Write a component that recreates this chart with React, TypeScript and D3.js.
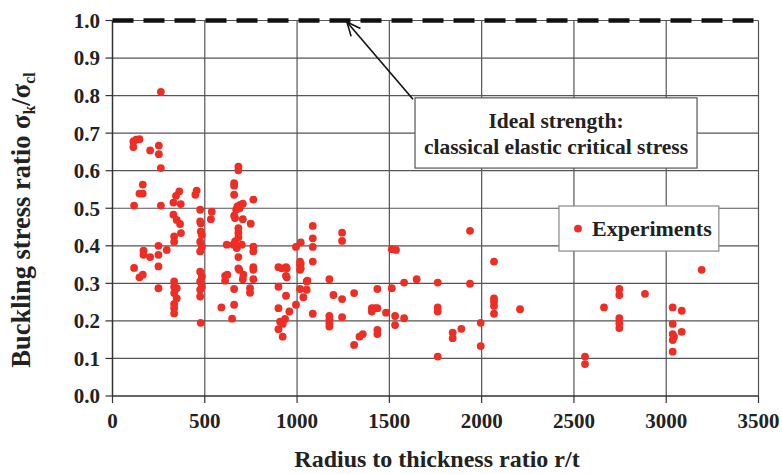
import React from "react";
import * as d3 from "d3";

const xTicks = [0, 500, 1000, 1500, 2000, 2500, 3000, 3500];
const yTicks = [0, 0.1, 0.2, 0.3, 0.4, 0.5, 0.6, 0.7, 0.8, 0.9, 1.0];

// Experiments: [r/t, sigma_k/sigma_cl]
const expX = [
  113, 128, 146, 113, 117, 117, 146, 164, 164, 146, 164, 168, 168, 204,
  204, 251, 251, 262, 262, 262, 249, 249, 294, 249, 249,
  362, 344, 330, 370, 330, 348, 366, 371, 334, 334, 334, 334, 348, 334, 348, 334, 334, 334,
  456, 449, 475, 538, 533, 478, 478, 484, 475, 484, 475, 475, 484, 475, 484, 475, 475, 478, 475,
  682, 682, 659, 659, 659, 763, 691, 706, 677, 670, 688, 659, 664, 706, 749, 682, 682, 682,
  619, 655, 673, 700, 664, 763, 763, 682, 682, 763, 763, 610, 622, 610, 687, 709, 706, 763,
  659, 745, 745, 590, 659, 648,
  899, 940, 940, 1016, 1016, 899, 940, 1016, 1052, 1034, 1052, 994, 899, 958, 935, 908, 922, 899, 922,
  1085, 1085, 1085, 1085, 994, 1020, 1016, 1020, 1020, 944, 917, 944, 1056, 1085,
  1244, 1244, 1175, 1197, 1244, 1175, 1175, 1175, 1175, 1244, 1309, 1356, 1338, 1309,
  1435, 1405, 1423, 1435, 1405, 1482, 1435, 1435, 1513, 1536, 1513, 1531, 1531, 1580, 1648, 1580,
  1762, 1762, 1762, 1762, 1937, 1937, 1843, 1843, 1890, 1995, 1995,
  2067, 2067, 2067, 2067, 2067, 2208,
  2560, 2560, 2663, 2746, 2746, 2885, 2746, 2746, 2746,
  3035, 3084, 3035, 3084, 3035, 3042, 3035, 3035, 3192,
];
const expY = [
  0.678, 0.683, 0.684, 0.663, 0.507, 0.341, 0.316, 0.323, 0.563, 0.539, 0.539, 0.387, 0.376, 0.37,
  0.654, 0.667, 0.644, 0.607, 0.81, 0.507, 0.4, 0.376, 0.389, 0.345, 0.287,
  0.545, 0.533, 0.515, 0.511, 0.483, 0.469, 0.458, 0.434, 0.425, 0.411, 0.305, 0.291, 0.287, 0.274, 0.26, 0.245, 0.234, 0.22,
  0.547, 0.536, 0.496, 0.491, 0.471, 0.46, 0.438, 0.429, 0.411, 0.398, 0.385, 0.331, 0.318, 0.305, 0.291, 0.283, 0.265, 0.195, 0.465,
  0.611, 0.601, 0.567, 0.56, 0.536, 0.523, 0.509, 0.512, 0.505, 0.496, 0.5, 0.48, 0.474, 0.471, 0.459, 0.447, 0.435, 0.423,
  0.403, 0.403, 0.394, 0.403, 0.412, 0.398, 0.385, 0.37, 0.34, 0.343, 0.336, 0.32, 0.323, 0.307, 0.336, 0.323, 0.311, 0.311,
  0.285, 0.287, 0.275, 0.236, 0.243, 0.206,
  0.343, 0.343, 0.32, 0.349, 0.336, 0.291, 0.267, 0.285, 0.283, 0.263, 0.305, 0.243, 0.234, 0.225, 0.205, 0.198, 0.192, 0.178, 0.158,
  0.453, 0.42, 0.397, 0.358, 0.397, 0.409, 0.358, 0.352, 0.34, 0.34, 0.34, 0.316, 0.307, 0.219,
  0.435, 0.413, 0.311, 0.269, 0.258, 0.213, 0.203, 0.194, 0.185, 0.21, 0.274, 0.165, 0.158, 0.136,
  0.285, 0.234, 0.234, 0.234, 0.225, 0.222, 0.176, 0.165, 0.391, 0.389, 0.287, 0.213, 0.189, 0.302, 0.311, 0.207,
  0.302, 0.236, 0.225, 0.105, 0.44, 0.299, 0.169, 0.154, 0.179, 0.195, 0.133,
  0.358, 0.26, 0.251, 0.24, 0.219, 0.231,
  0.105, 0.085, 0.236, 0.285, 0.269, 0.272, 0.207, 0.194, 0.181,
  0.236, 0.227, 0.192, 0.171, 0.165, 0.158, 0.149, 0.118, 0.336,
];

const idealValue = 1.0;
const annotationLines = ["Ideal strength:", "classical elastic critical stress"];
const legendLabel = "Experiments";
const xTitle = "Radius to thickness ratio r/t";

const W = 782;
const H = 474;
const FONT = "'Liberation Serif', 'Times New Roman', serif";
const RED = "#ee2d25";

export default function App() {
  const x = d3.scaleLinear().domain([0, 3500]).range([112.5, 758.5]);
  const y = d3.scaleLinear().domain([0, 1]).range([396, 20.5]);
  const pts = expX.map((v, i) => [v, expY[i]] as [number, number]);

  const box = { x0: 1639, x1: 3167, y0: 0.794, y1: 0.607 };
  const arrowTail: [number, number] = [1628, 0.79];
  const arrowTip: [number, number] = [1270, 0.996];
  const leg = { x0: 2419, x1: 3285, y0: 0.506, y1: 0.386 };

  const tx = x(arrowTip[0]);
  const ty = y(arrowTip[1]);
  const sx = x(arrowTail[0]);
  const sy = y(arrowTail[1]);
  const ang = Math.atan2(sy - ty, sx - tx);
  const hl = 15;
  const ha = 0.42;
  const h1 = [tx + hl * Math.cos(ang + ha), ty + hl * Math.sin(ang + ha)];
  const h2 = [tx + hl * Math.cos(ang - ha), ty + hl * Math.sin(ang - ha)];

  return (
    <svg
      width={W}
      height={H}
      style={{ position: "absolute", left: 0, top: 0, background: "#fff" }}
      fontFamily={FONT}
    >
      <rect width={W} height={H} fill="#fff" />
      {xTicks.slice(1).map((t) => (
        <line key={"gx" + t} x1={x(t)} x2={x(t)} y1={y(1)} y2={y(0)} stroke="#555" strokeWidth={1.2} />
      ))}
      {yTicks.slice(1).map((t) => (
        <line key={"gy" + t} x1={x(0)} x2={x(3500)} y1={y(t)} y2={y(t)} stroke="#555" strokeWidth={1.2} />
      ))}
      <line x1={x(0)} x2={x(0)} y1={y(1)} y2={y(0)} stroke="#333" strokeWidth={1.5} />
      <line x1={x(0)} x2={x(3500)} y1={y(0)} y2={y(0)} stroke="#333" strokeWidth={1.5} />
      {yTicks.map((t) => (
        <g key={"yt" + t}>
          <line x1={x(0) - 7} x2={x(0)} y1={y(t)} y2={y(t)} stroke="#333" strokeWidth={1.2} />
          <text x={100} y={y(t)} dy="0.35em" textAnchor="end" fontSize={21} fontWeight="bold" fill="#222">
            {t.toFixed(1)}
          </text>
        </g>
      ))}
      {xTicks.map((t) => (
        <g key={"xt" + t}>
          <line x1={x(t)} x2={x(t)} y1={y(0)} y2={y(0) + 7} stroke="#333" strokeWidth={1.2} />
          <text x={x(t)} y={428} textAnchor="middle" fontSize={21} fontWeight="bold" fill="#222">
            {t}
          </text>
        </g>
      ))}
      <text x={437} y={467} textAnchor="middle" fontSize={24} fontWeight="bold" fill="#222">
        {xTitle}
      </text>
      <text
        transform={`translate(30,${220}) rotate(-90)`}
        textAnchor="middle"
        fontSize={26.5}
        fontWeight="bold"
        fill="#222"
      >
        Buckling stress ratio{"  "}σ
        <tspan fontSize={16} dy={5}>k</tspan>
        <tspan dy={-5}>/σ</tspan>
        <tspan fontSize={16} dy={5}>cl</tspan>
      </text>
      <line
        x1={x(0)}
        x2={x(3500)}
        y1={y(idealValue)}
        y2={y(idealValue)}
        stroke="#111"
        strokeWidth={4.5}
        strokeDasharray="21 10"
      />
      {pts.map((p, i) => (
        <circle key={i} cx={x(p[0])} cy={y(p[1])} r={3.9} fill={RED} />
      ))}
      <line x1={sx} y1={sy} x2={tx} y2={ty} stroke="#111" strokeWidth={1.6} />
      <polyline
        points={`${h1[0]},${h1[1]} ${tx},${ty} ${h2[0]},${h2[1]}`}
        fill="none"
        stroke="#111"
        strokeWidth={1.6}
      />
      <rect
        x={x(box.x0)}
        y={y(box.y0)}
        width={x(box.x1) - x(box.x0)}
        height={y(box.y1) - y(box.y0)}
        fill="#fff"
        stroke="#555"
        strokeWidth={1.2}
      />
      {annotationLines.map((l, i) => (
        <text
          key={l}
          x={(x(box.x0) + x(box.x1)) / 2}
          y={y(box.y0) + 30 + i * 26}
          textAnchor="middle"
          fontSize={21.5}
          fontWeight="bold"
          fill="#222"
        >
          {l}
        </text>
      ))}
      <rect
        x={x(leg.x0)}
        y={y(leg.y0)}
        width={x(leg.x1) - x(leg.x0)}
        height={y(leg.y1) - y(leg.y0)}
        fill="#fff"
        stroke="#888"
        strokeWidth={1.2}
      />
      <circle cx={x(leg.x0) + 19} cy={(y(leg.y0) + y(leg.y1)) / 2} r={3.9} fill={RED} />
      <text
        x={x(leg.x0) + 33}
        y={(y(leg.y0) + y(leg.y1)) / 2}
        dy="0.35em"
        fontSize={22}
        fontWeight="bold"
        fill="#222"
      >
        {legendLabel}
      </text>
    </svg>
  );
}
